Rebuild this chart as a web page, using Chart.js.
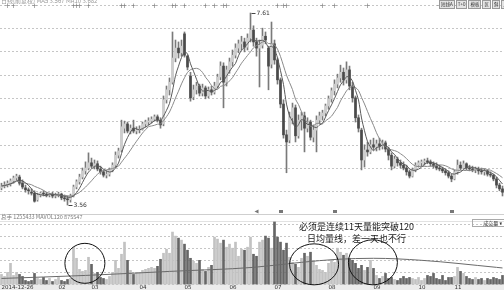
<!DOCTYPE html>
<html>
<head>
<meta charset="utf-8">
<script src="https://cdn.jsdelivr.net/npm/chart.js@4.4.1/dist/chart.umd.min.js"></script>
<style>
  body { margin: 0; background: #fff; }
  #wrap { position: relative; width: 504px; height: 290px; overflow: hidden; font-family: "Noto Sans CJK SC", "DejaVu Sans", sans-serif; }
  canvas { position: absolute; left: 0; }
  .t { position: absolute; white-space: nowrap; line-height: 1; }
  .band { position: absolute; left: 0; top: 284px; width: 504px; height: 6px; background: #ececec; }
  .sep { position: absolute; left: 0; width: 504px; height: 1px; }
  .btns { position: absolute; left: 439px; top: 0; display: flex; gap: 1px; white-space: nowrap; }
  .btns span { display: block; height: 7px; border: 1px solid #999; background: #e4e4e4; font-size: 4.5px; line-height: 7px; color: #333; padding: 0 1px; white-space: nowrap; }
  .note { position: absolute; white-space: nowrap; font-size: 9px; line-height: 9px; color: #1a1a1a; }
</style>
</head>
<body>
<div id="wrap">
  <div class="band"></div>
  <div class="sep" style="top:214px;background:#cfcfcf"></div>
  <div class="sep" style="top:221px;background:#e2e2e2"></div>
  <canvas id="price" width="504" height="215" style="top:0;width:504px;height:215px"></canvas>
  <canvas id="vol" width="504" height="75" style="top:215px;width:504px;height:75px"></canvas>
  <div class="t" style="left:1px;top:-2px;font-size:6px;color:#9a9a9a">日线(前复权) MA5 3.567 MA10 3.682</div>
  <div class="btns"><span>短线A</span><span>T+0</span><span>模板</span><span>区</span><span>斜</span><span>周期</span><span>◂</span><span>▸</span></div>
  <div class="t" style="left:1px;top:215px;font-size:5.5px;color:#7a7a7a">总手 1255433  MAVOL120 875547</div>
  <div class="t" style="left:472px;top:219px;width:29px;height:6px;border:1px solid #aaa;font-size:5px;line-height:6px;text-align:right;padding-right:2px;color:#333">成交量 ▾</div>
  <div class="note" style="left:299px;top:222px">必须是连续11天量能突破120</div>
  <div class="note" style="left:307px;top:234px">日均量线，差一天也不行</div>
</div>
<script>
// daily candles, 2014-12-26 onwards
const opens = [
  3.92, 3.96, 3.98, 4.00, 4.07, 4.13, 4.15, 4.02, 3.92, 3.88, 3.83, 3.81,
  3.67, 3.77, 3.81, 3.79, 3.77, 3.79, 3.75, 3.77, 3.79, 3.71, 3.69, 3.67,
  3.75, 3.94, 4.05, 4.15, 4.28, 4.34, 4.45, 4.38, 4.43, 4.32, 4.26, 4.19,
  4.21, 4.30, 4.40, 4.61, 4.72, 5.18, 5.27, 5.12, 5.18, 5.12, 5.14, 5.16,
  5.27, 5.31, 5.33, 5.37, 5.42, 5.35, 5.27, 5.78, 5.99, 6.15, 6.66, 6.87,
  6.77, 7.17, 6.70, 6.28, 5.84, 5.99, 6.07, 5.92, 6.03, 5.86, 5.99, 5.94,
  6.07, 6.26, 6.49, 6.15, 6.41, 6.58, 6.72, 6.87, 6.96, 7.00, 6.89, 7.08,
  7.25, 7.00, 6.87, 6.93, 7.12, 6.87, 6.53, 6.96, 6.62, 6.20, 5.69, 5.04,
  4.93, 5.40, 5.61, 5.02, 5.35, 5.44, 5.18, 5.31, 4.99, 5.14, 5.35, 5.44,
  5.50, 5.65, 5.80, 5.97, 6.11, 6.24, 6.36, 6.20, 6.41, 6.07, 5.82, 5.40,
  5.14, 4.51, 4.72, 4.68, 4.83, 4.78, 4.85, 4.80, 4.87, 4.74, 4.61, 4.38,
  4.53, 4.45, 4.40, 4.34, 4.26, 4.17, 4.30, 4.40, 4.45, 4.47, 4.49, 4.47,
  4.43, 4.38, 4.34, 4.32, 4.28, 4.24, 4.17, 4.11, 4.26, 4.40, 4.34, 4.43,
  4.34, 4.32, 4.30, 4.32, 4.28, 4.26, 4.28, 4.21, 4.19, 4.11, 3.98, 3.90
];
const highs = [
  4.02, 4.05, 4.07, 4.11, 4.17, 4.21, 4.19, 4.09, 3.98, 3.92, 3.90, 3.86,
  3.81, 3.83, 3.86, 3.83, 3.81, 3.83, 3.81, 3.83, 3.81, 3.77, 3.75, 3.79,
  3.98, 4.09, 4.21, 4.34, 4.47, 4.66, 4.55, 4.51, 4.49, 4.38, 4.30, 4.28,
  4.34, 4.45, 4.68, 4.76, 5.35, 5.33, 5.31, 5.25, 5.35, 5.21, 5.23, 5.31,
  5.35, 5.40, 5.42, 5.46, 5.46, 5.40, 5.86, 6.07, 6.24, 7.21, 7.04, 7.00,
  7.04, 7.21, 6.72, 6.36, 6.09, 6.15, 6.11, 6.11, 6.07, 6.05, 6.07, 6.15,
  6.32, 6.58, 6.56, 6.49, 6.66, 6.83, 6.96, 7.04, 7.12, 7.08, 7.17, 7.61,
  7.34, 7.08, 7.04, 7.29, 7.21, 6.91, 7.42, 7.04, 6.66, 6.24, 5.78, 5.14,
  5.52, 5.71, 5.67, 5.46, 5.52, 5.52, 5.40, 5.35, 5.25, 5.44, 5.52, 5.56,
  5.69, 5.86, 6.03, 6.20, 6.32, 6.51, 6.45, 6.58, 6.49, 6.15, 5.86, 5.46,
  5.18, 4.83, 4.89, 4.93, 4.97, 4.93, 4.97, 4.93, 4.91, 4.78, 4.66, 4.59,
  4.57, 4.51, 4.47, 4.40, 4.30, 4.34, 4.45, 4.49, 4.51, 4.53, 4.55, 4.51,
  4.47, 4.45, 4.40, 4.36, 4.32, 4.28, 4.21, 4.30, 4.51, 4.47, 4.49, 4.45,
  4.40, 4.38, 4.36, 4.36, 4.34, 4.32, 4.30, 4.26, 4.21, 4.15, 4.02, 3.96
];
const lows = [
  3.88, 3.92, 3.94, 3.96, 4.02, 4.09, 3.98, 3.90, 3.83, 3.79, 3.77, 3.62,
  3.64, 3.73, 3.75, 3.73, 3.73, 3.71, 3.71, 3.73, 3.67, 3.64, 3.56, 3.62,
  3.73, 3.90, 4.00, 4.11, 4.21, 4.30, 4.34, 4.32, 4.28, 4.21, 4.15, 4.13,
  4.17, 4.26, 4.36, 4.55, 4.68, 5.08, 5.08, 5.06, 5.08, 5.06, 5.08, 5.14,
  5.21, 5.25, 5.29, 5.33, 5.31, 5.18, 5.23, 5.71, 5.88, 6.11, 6.58, 6.66,
  6.70, 6.68, 6.41, 5.75, 5.78, 5.90, 5.86, 5.86, 5.80, 5.82, 5.88, 5.90,
  6.03, 6.20, 5.61, 6.07, 6.34, 6.49, 6.66, 6.77, 6.83, 6.79, 6.83, 7.00,
  6.91, 6.70, 6.05, 6.87, 6.96, 5.99, 6.45, 6.53, 6.11, 5.61, 4.97, 4.24,
  4.87, 5.27, 4.89, 4.97, 5.14, 4.68, 5.10, 4.93, 4.89, 4.68, 5.27, 5.35,
  5.44, 5.58, 5.73, 5.88, 6.03, 6.15, 6.09, 6.13, 5.99, 5.73, 5.31, 5.10,
  4.30, 4.36, 4.59, 4.64, 4.72, 4.70, 4.72, 4.74, 4.68, 4.51, 4.30, 4.34,
  4.38, 4.34, 4.30, 4.19, 4.13, 4.15, 4.26, 4.36, 4.38, 4.40, 4.43, 4.38,
  4.34, 4.30, 4.28, 4.24, 4.19, 4.13, 4.05, 4.09, 4.21, 4.30, 4.32, 4.30,
  4.28, 4.26, 4.24, 4.21, 4.21, 4.19, 4.17, 4.15, 4.07, 3.92, 3.86, 3.75
];
const closes = [
  3.96, 3.98, 4.02, 4.07, 4.13, 4.17, 4.02, 3.94, 3.88, 3.86, 3.81, 3.64,
  3.77, 3.81, 3.79, 3.77, 3.79, 3.75, 3.77, 3.79, 3.71, 3.69, 3.67, 3.75,
  3.94, 4.05, 4.15, 4.28, 4.34, 4.45, 4.38, 4.43, 4.32, 4.26, 4.19, 4.21,
  4.30, 4.40, 4.61, 4.70, 5.21, 5.27, 5.12, 5.18, 5.12, 5.14, 5.16, 5.27,
  5.31, 5.33, 5.37, 5.42, 5.35, 5.25, 5.78, 5.99, 6.15, 6.66, 6.87, 6.77,
  6.91, 6.72, 6.47, 5.82, 5.99, 6.07, 5.92, 6.03, 5.86, 5.99, 5.94, 6.07,
  6.26, 6.49, 6.15, 6.41, 6.58, 6.72, 6.87, 6.96, 7.00, 6.89, 7.08, 7.25,
  7.00, 6.87, 6.93, 7.12, 7.04, 6.49, 6.96, 6.62, 6.20, 5.69, 5.04, 4.89,
  5.40, 5.61, 5.02, 5.35, 5.44, 5.18, 5.31, 4.99, 5.14, 5.35, 5.44, 5.50,
  5.65, 5.80, 5.97, 6.11, 6.24, 6.36, 6.20, 6.41, 6.07, 5.82, 5.40, 5.18,
  4.51, 4.72, 4.68, 4.83, 4.78, 4.85, 4.80, 4.87, 4.74, 4.61, 4.38, 4.53,
  4.45, 4.40, 4.34, 4.26, 4.17, 4.30, 4.40, 4.45, 4.47, 4.49, 4.47, 4.43,
  4.38, 4.34, 4.32, 4.28, 4.24, 4.17, 4.11, 4.26, 4.40, 4.34, 4.43, 4.34,
  4.32, 4.30, 4.32, 4.28, 4.26, 4.28, 4.21, 4.19, 4.11, 3.98, 3.90, 3.83
];
// volume, 万手
const volumes = [
   50,  40,  60, 105,  45,  60,  50,  40,  20,  15,  20,  55,
   30,  25,  35,  20,  30,  15,  25,  35,  20,  15,  25,  30,
  185, 130,  75,  65,  70, 135, 100,  55,  60,  35,  30,  25,
   40,  60, 120,  80, 150, 210, 120,  70,  50,  60,  60,  70,
   75,  80,  85,  80,  90, 125, 155, 175, 155, 260, 240, 230,
  220, 200, 170, 130, 115, 105, 120,  75,  65,  85,  95, 235,
  225, 205, 220, 185, 200, 180, 210, 140, 175, 170, 185, 235,
  150, 140, 210, 220, 240, 230, 180, 310, 235, 210, 170, 205,
  135, 110, 100,  85, 130, 155, 140, 160, 120,  95,  75,  70,
   60, 105, 120, 110, 180, 160, 145, 155, 130, 120, 105,  80,
   95,  70,  85, 120,  80,  45,  30,  40,  55,  30,  35,  25,
   20,  30,  40,  30,  35,  30,  25,  35,  20,  30,  45,  40,
   55,  30,  25,  45,  20,  35,  35,  40,  85,  65,  55,  40,
   30,  25,  35,  25,  30,  20,  30,  25,  35,  30,  25,  45
];
// MAVOL120 read at a few days
const mavolDays = [0, 28, 56, 84, 100, 112, 124, 140, 165, 167];
const mavolVals = [30, 45, 65, 85, 110, 125, 130, 120, 85, 82];

// x axis
const tickDays = [0, 19, 30, 46, 61, 76, 91, 109, 124, 139, 151];
const tickText = ['2014-12-26', '02', '03', '04', '05', '06', '07', '08', '09', '10', '11'];

// event markers above / below the candles
const infoDays = [2, 4, 11, 24, 25, 26, 29, 40, 41, 44, 51, 57, 58, 61, 68, 71, 74, 75, 92, 94, 95, 107, 111, 122, 146, 151, 153];
const flagDays = [93, 111, 150];
const arrowDays = [85];

// volume circles: centre day, volume, radii in px
const circles = [
  { at: 27.8, vol: 105, rx: 20, ry: 20 },
  { at: 104.2, vol: 100, rx: 24.5, ry: 20.5 },
  { at: 123.8, vol: 110, rx: 24.5, ry: 22.5 }
];

const priceMin = 3.349, priceMax = 7.779;

const labels = closes.map(() => '');
tickDays.forEach((d, j) => { labels[d] = tickText[j]; });

const movingAverage = (src, n) => src.map((_, i) => {
  const win = src.slice(Math.max(0, i - n + 1), i + 1);
  return win.reduce((a, b) => a + b, 0) / win.length;
});
const ma5 = movingAverage(closes, 5);
const ma10 = movingAverage(closes, 10);
const up = closes.map((c, i) => c >= opens[i]);

const mavolLine = closes.map(() => null);
mavolDays.forEach((d, j) => { mavolLine[d] = mavolVals[j]; });

const gridStyle = { color: '#c6c6c6', drawTicks: false };
const borderStyle = { display: false, dash: [2, 2] };

const priceMarks = {
  id: 'priceMarks',
  afterDatasetsDraw(chart) {
    const { ctx, scales: { x, y } } = chart;
    ctx.save();
    ctx.fillStyle = '#777';
    ctx.font = '7px "DejaVu Sans"';
    ctx.textAlign = 'center';
    ctx.textBaseline = 'middle';
    infoDays.forEach(d => ctx.fillText('+', x.getPixelForValue(d), 6));
    flagDays.forEach(d => ctx.fillRect(Math.round(x.getPixelForValue(d)) - 2, 210, 4, 3));
    arrowDays.forEach(d => {
      const px = x.getPixelForValue(d);
      ctx.beginPath();
      ctx.moveTo(px - 2, 211.5); ctx.lineTo(px + 2, 209.5); ctx.lineTo(px + 2, 213.5);
      ctx.fill();
    });
    // highest / lowest price labels
    const hi = highs.indexOf(Math.max(...highs));
    const lo = lows.indexOf(Math.min(...lows));
    ctx.strokeStyle = '#444';
    ctx.fillStyle = '#333';
    ctx.lineWidth = 1;
    ctx.font = '6px "DejaVu Sans"';
    ctx.textAlign = 'left';
    [[hi, highs[hi]], [lo, lows[lo]]].forEach(([d, v]) => {
      const px = x.getPixelForValue(d), py = Math.round(y.getPixelForValue(v)) + 0.5;
      ctx.beginPath(); ctx.moveTo(px + 1, py); ctx.lineTo(px + 5, py); ctx.stroke();
      ctx.fillText(v.toFixed(2), px + 6, py);
    });
    ctx.restore();
  }
};

const circleMarks = {
  id: 'circleMarks',
  afterDraw(chart) {
    const { ctx, scales: { x, y } } = chart;
    ctx.save();
    ctx.strokeStyle = '#111';
    ctx.lineWidth = 1;
    circles.forEach(c => {
      ctx.beginPath();
      ctx.ellipse(x.getPixelForValue(c.at), y.getPixelForValue(c.vol), c.rx, c.ry, 0, 0, Math.PI * 2);
      ctx.stroke();
    });
    ctx.restore();
  }
};

new Chart(document.getElementById('price'), {
  type: 'bar',
  data: {
    labels: labels,
    datasets: [
      { type: 'line', data: ma5, borderColor: '#5a5a5a', borderWidth: 1, pointRadius: 0, tension: 0.3, order: 0 },
      { type: 'line', data: ma10, borderColor: '#8a8a8a', borderWidth: 1, pointRadius: 0, tension: 0.3, order: 0 },
      {
        data: opens.map((o, i) => [o, closes[i]]),
        backgroundColor: up.map(u => u ? '#cdcdcd' : '#4a4a4a'),
        barThickness: 2, minBarLength: 1, grouped: false, order: 1
      },
      {
        data: lows.map((l, i) => [l, highs[i]]),
        backgroundColor: '#7a7a7a',
        barThickness: 1, grouped: false, order: 2
      }
    ]
  },
  options: {
    responsive: false,
    animation: false,
    devicePixelRatio: 1,
    events: [],
    layout: { padding: { top: 5, left: 0, right: 0, bottom: 0 } },
    plugins: { legend: { display: false }, tooltip: { enabled: false } },
    scales: {
      x: { display: false },
      y: {
        min: priceMin, max: priceMax,
        ticks: { display: false, count: 10 },
        grid: gridStyle,
        border: borderStyle
      }
    }
  },
  plugins: [priceMarks]
});

new Chart(document.getElementById('vol'), {
  type: 'bar',
  data: {
    labels: labels,
    datasets: [
      {
        type: 'line', data: mavolLine, spanGaps: true, borderColor: '#6a6a6a', borderWidth: 1,
        pointRadius: 0, cubicInterpolationMode: 'monotone', order: 0
      },
      {
        data: volumes,
        backgroundColor: up.map(u => u ? '#c2c2c2' : '#666'),
        barThickness: 2, clip: false, order: 1
      }
    ]
  },
  options: {
    responsive: false,
    animation: false,
    devicePixelRatio: 1,
    events: [],
    layout: { padding: { top: 9, left: 0, right: 0, bottom: 0 } },
    plugins: { legend: { display: false }, tooltip: { enabled: false } },
    scales: {
      x: {
        grid: { display: false, drawTicks: false },
        border: { display: false },
        ticks: {
          autoSkip: false, maxRotation: 0, minRotation: 0, align: 'start', padding: 0,
          color: '#333', font: { size: 5.5, lineHeight: 1, family: 'DejaVu Sans' }
        }
      },
      y: {
        min: 0, max: 300,
        ticks: { display: false, stepSize: 60 },
        grid: gridStyle,
        border: borderStyle
      }
    }
  },
  plugins: [circleMarks]
});
</script>
</body>
</html>
